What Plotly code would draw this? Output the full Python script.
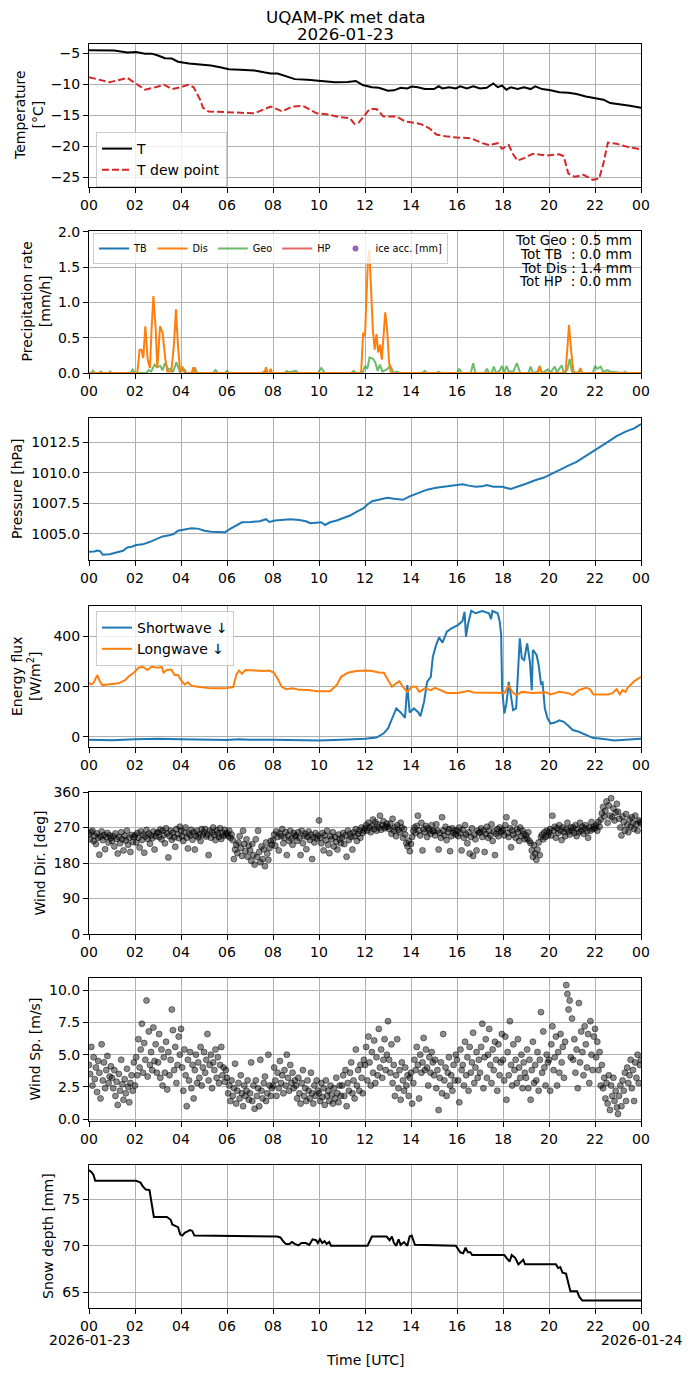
import numpy as np
import pandas as pd
import plotly.graph_objects as go
from plotly.subplots import make_subplots

DAY = pd.Timestamp("2026-01-23")

# ---- temperature [°C] (hours since 00 UTC) ----
temp_hours = [0, 1.1, 1.67, 2.05, 2.43, 2.72, 3.0, 3.3, 3.6, 3.87,
              4.35, 4.93, 5.3, 5.7, 6.08, 6.56, 7.2, 7.6, 7.9, 8.2,
              8.57, 8.95, 9.5, 10.1, 10.7, 11.25, 11.6, 11.9, 12.3, 12.6,
              13.0, 13.26, 13.55, 13.84, 14.03, 14.3, 14.6, 15.0, 15.2, 15.37,
              15.66, 15.95, 16.14, 16.43, 16.71, 17.0, 17.29, 17.58, 17.77, 17.96,
              18.15, 18.34, 18.63, 18.92, 19.2, 19.4, 19.7, 20.07, 20.45, 20.84,
              21.2, 21.6, 22.0, 22.37, 22.66, 23.04, 23.52, 24.0]
temp_vals = [-4.57, -4.6, -4.9, -4.85, -5.1, -5.1, -5.4, -5.85, -5.9, -6.4,
             -6.7, -6.9, -7.0, -7.3, -7.6, -7.7, -7.8, -8.1, -8.3, -8.3,
             -8.75, -9.2, -9.3, -9.45, -9.7, -9.65, -9.5, -10.15, -10.5, -10.6,
             -11.05, -11.0, -10.6, -10.7, -10.4, -10.5, -10.8, -10.8, -10.35, -10.7,
             -10.5, -10.7, -10.35, -10.7, -10.35, -10.7, -10.6, -9.9, -10.5, -10.25,
             -10.9, -10.5, -10.8, -10.5, -10.8, -10.35, -10.8, -11.0, -11.3, -11.4,
             -11.6, -12.0, -12.3, -12.5, -13.05, -13.3, -13.5, -13.8]

dew_hours = [0, 0.9, 1.67, 2.0, 2.43, 2.8, 3.26, 3.6, 4.0, 4.3,
             4.55, 4.83, 4.96, 5.2, 6.0, 7.2, 7.9, 8.4, 8.85, 9.3,
             9.9, 10.4, 10.9, 11.35, 11.54, 11.73, 12.2, 12.5, 12.8, 13.36,
             13.74, 14.4, 14.8, 15.1, 15.5, 16.0, 16.6, 17.1, 17.4, 17.77,
             17.96, 18.25, 18.44, 18.63, 18.92, 19.3, 19.88, 20.45, 20.64, 20.84,
             21.12, 21.5, 21.9, 22.18, 22.37, 22.56, 22.94, 23.42, 24.0]
dew_vals = [-8.9, -9.7, -9.0, -9.8, -10.9, -10.6, -10.1, -10.8, -10.5, -10.1,
            -10.5, -12.5, -13.8, -14.4, -14.5, -14.7, -13.6, -14.4, -13.6, -13.5,
            -14.7, -14.9, -15.3, -15.5, -16.4, -16.2, -14.0, -14.0, -15.2, -15.2,
            -16.0, -16.4, -17.1, -18.1, -18.4, -18.6, -18.7, -19.5, -19.8, -19.5,
            -20.4, -19.8, -21.3, -22.3, -21.9, -21.2, -21.5, -21.3, -21.6, -24.4,
            -24.9, -24.6, -25.4, -25.2, -22.7, -19.4, -19.6, -20.1, -20.5]

# ---- precipitation rate [mm/h] ----
dis_hours = [0, 2.1, 2.2, 2.28, 2.36, 2.45, 2.55, 2.65, 2.72, 2.8,
             2.9, 2.97, 3.09, 3.2, 3.32, 3.41, 3.58, 3.7, 3.78, 3.87,
             3.97, 4.06, 4.16, 4.46, 4.54, 4.62, 7.62, 7.7, 7.76, 7.84,
             7.9, 7.96, 11.83, 11.92, 12.0, 12.06, 12.13, 12.19, 12.27, 12.34,
             12.42, 12.5, 12.57, 12.65, 12.73, 12.8, 12.88, 12.96, 13.05, 13.13,
             19.52, 19.6, 19.68, 20.72, 20.8, 20.87, 20.97, 21.07, 21.3, 21.37,
             21.44, 24.0]
dis_vals = [0, 0, 0.33, 0.33, 0.21, 0.66, 0.19, 0.07, 0.62, 1.09,
            0.62, 0.07, 0.66, 0.57, 0.19, 0.02, 0.02, 0.43, 0.9, 0.38,
            0, 0.09, 0, 0, 0.08, 0, 0, 0.08, 0, 0,
            0.06, 0, 0, 0.57, 0.52, 1.0, 1.62, 1.74, 1.24, 0.62,
            0.33, 0.55, 0.29, 0.40, 0.19, 0.57, 0.86, 0.62, 0.14, 0,
            0, 0.09, 0, 0, 0.38, 0.68, 0.29, 0, 0, 0.07,
            0, 0]

geo_hours = [0, 0.1, 0.17, 0.25, 0.45, 0.52, 0.6, 0.85, 0.92, 1.0,
             1.8, 1.9, 2.0, 2.5, 2.6, 2.7, 2.85, 2.95, 3.1, 3.2,
             3.3, 3.45, 3.55, 3.65, 3.8, 3.95, 4.15, 4.25, 4.5, 4.6,
             4.7, 5.4, 5.5, 5.6, 5.9, 6.0, 6.1, 7.5, 7.6, 7.7,
             8.5, 8.6, 8.7, 9.0, 9.1, 9.95, 10.1, 10.25, 11.4, 11.5,
             11.6, 11.9, 12.0, 12.1, 12.2, 12.35, 12.45, 12.55, 12.65, 12.75,
             12.95, 13.1, 13.25, 13.4, 13.5, 14.5, 14.6, 14.7, 15.1, 15.2,
             15.3, 16.0, 16.1, 16.2, 16.6, 16.7, 16.8, 17.2, 17.3, 17.4,
             17.5, 17.6, 17.7, 17.85, 17.95, 18.05, 18.15, 18.25, 18.45, 18.6,
             18.75, 19.1, 19.2, 19.3, 19.5, 19.6, 19.7, 19.95, 20.05, 20.25,
             20.35, 20.55, 20.65, 20.8, 20.9, 21.0, 21.25, 21.35, 21.45, 21.9,
             22.0, 22.1, 22.25, 22.35, 22.55, 22.65, 23.2, 23.3, 23.4, 24.0]
geo_vals = [0, 0, 0.03, 0, 0, 0.02, 0, 0, 0.02, 0,
            0, 0.05, 0, 0, 0.04, 0.02, 0.12, 0.08, 0.1, 0.04,
            0.14, 0.05, 0.06, 0.01, 0.15, 0.02, 0.05, 0, 0, 0.08,
            0, 0, 0.04, 0, 0, 0.03, 0, 0, 0.02, 0,
            0, 0.03, 0.01, 0.03, 0, 0, 0.07, 0, 0, 0.03,
            0, 0, 0.1, 0.06, 0.22, 0.2, 0.15, 0.03, 0.12, 0.02,
            0.05, 0.1, 0, 0.02, 0, 0, 0.03, 0, 0, 0.02,
            0, 0, 0.06, 0, 0, 0.14, 0, 0, 0.06, 0,
            0, 0.09, 0, 0.03, 0.1, 0, 0.1, 0.02, 0.02, 0.14,
            0, 0, 0.09, 0, 0.02, 0.1, 0, 0.05, 0, 0.09,
            0.01, 0.11, 0, 0.05, 0.2, 0.02, 0, 0.05, 0, 0,
            0.1, 0.06, 0.09, 0.02, 0.04, 0.02, 0, 0.02, 0, 0]

precip_totals = ["Tot Geo : 0.5 mm", "Tot TB\u00a0 : 0.0 mm",
                 "Tot Dis : 1.4 mm", "Tot HP\u00a0 : 0.0 mm"]

# ---- pressure [hPa] ----
pres_hours = [0, 0.23, 0.36, 0.48, 0.6, 0.9, 1.19, 1.48, 1.67, 1.86,
              2.05, 2.34, 2.63, 2.91, 3.2, 3.49, 3.68, 3.87, 4.16, 4.45,
              4.73, 5.02, 5.31, 5.6, 5.92, 6.08, 6.36, 6.65, 7.03, 7.42,
              7.7, 7.84, 8.09, 8.38, 8.76, 9.14, 9.43, 9.62, 9.91, 10.1,
              10.26, 10.48, 10.77, 11.06, 11.35, 11.63, 11.92, 12.11, 12.31, 12.59,
              12.98, 13.26, 13.65, 13.94, 14.32, 14.7, 15.09, 15.47, 15.85, 16.24,
              16.52, 16.81, 17.1, 17.29, 17.58, 17.96, 18.34, 18.63, 19.0, 19.4,
              19.78, 20.07, 20.45, 20.84, 21.2, 21.6, 22.0, 22.37, 22.56, 22.94,
              23.33, 23.7, 24.0]
pres_vals = [1003.54, 1003.57, 1003.65, 1003.6, 1003.3, 1003.35, 1003.49, 1003.63, 1003.9, 1003.96,
             1004.1, 1004.15, 1004.34, 1004.59, 1004.8, 1004.89, 1005.0, 1005.27, 1005.38, 1005.47,
             1005.44, 1005.27, 1005.19, 1005.19, 1005.14, 1005.36, 1005.69, 1005.96, 1005.99, 1006.04,
             1006.21, 1005.99, 1006.1, 1006.15, 1006.21, 1006.15, 1006.04, 1005.88, 1005.91, 1005.96,
             1005.74, 1005.96, 1006.1, 1006.29, 1006.51, 1006.81, 1007.09, 1007.42, 1007.69, 1007.8,
             1007.97, 1007.88, 1007.8, 1008.08, 1008.35, 1008.63, 1008.79, 1008.9, 1009.01, 1009.07,
             1008.96, 1008.87, 1008.9, 1009.01, 1008.87, 1008.87, 1008.68, 1008.9, 1009.12, 1009.4,
             1009.62, 1009.89, 1010.27, 1010.6, 1010.9, 1011.37, 1011.87, 1012.28, 1012.55, 1013.02,
             1013.38, 1013.65, 1014.01]

# ---- energy flux [W/m2] ----
sw_hours = [0, 1, 2, 3, 4, 5, 6, 6.5, 7, 8,
            9, 10, 11, 12, 12.5, 12.8, 13.0, 13.17, 13.36, 13.55,
            13.74, 13.84, 13.94, 14.13, 14.32, 14.41, 14.57, 14.7, 14.86, 14.95,
            15.09, 15.22, 15.37, 15.56, 15.76, 16.04, 16.24, 16.33, 16.39, 16.47,
            16.62, 16.81, 17.1, 17.39, 17.48, 17.54, 17.77, 17.86, 17.92, 17.96,
            18.06, 18.15, 18.25, 18.34, 18.44, 18.57, 18.73, 18.82, 18.92, 19.05,
            19.17, 19.25, 19.3, 19.46, 19.55, 19.65, 19.72, 19.82, 19.94, 20.07,
            20.26, 20.45, 20.64, 20.84, 21.03, 21.3, 21.6, 21.9, 22.37, 22.85,
            23.33, 24.0]
sw_vals = [-12, -14, -10, -8, -10, -12, -13, -10, -12, -12,
           -14, -15, -12, -8, -3, 13, 33, 73, 113, 97,
           76, 206, 97, 113, 97, 82, 140, 219, 239, 319,
           365, 396, 375, 419, 432, 445, 461, 498, 399, 445,
           502, 492, 501, 492, 469, 501, 492, 458, 405, 193,
           93, 133, 219, 166, 106, 113, 392, 312, 306, 372,
           299, 186, 346, 326, 286, 213, 217, 113, 73, 53,
           57, 66, 60, 44, 27, 20, 7, -4, -9, -15,
           -12, -8]

lw_hours = [0, 0.08, 0.19, 0.36, 0.48, 0.58, 0.9, 1.28, 1.57, 1.76,
            1.96, 2.15, 2.34, 2.53, 2.72, 3.0, 3.16, 3.24, 3.39, 3.58,
            3.72, 3.87, 4.0, 4.16, 4.31, 4.45, 4.73, 5.31, 5.88, 6.27,
            6.4, 6.52, 6.65, 6.8, 7.23, 7.61, 7.84, 8.03, 8.19, 8.38,
            8.57, 8.86, 9.14, 9.53, 9.91, 10.48, 10.77, 10.96, 11.25, 11.63,
            12.02, 12.31, 12.59, 12.82, 13.0, 13.17, 13.36, 13.49, 13.65, 13.84,
            14.03, 14.22, 14.36, 14.6, 14.86, 15.05, 15.28, 15.56, 16.04, 16.33,
            16.52, 16.71, 17.19, 17.77, 18.06, 18.25, 18.4, 18.57, 18.82, 19.3,
            19.88, 20.07, 20.45, 20.84, 21.03, 21.3, 21.6, 21.78, 21.93, 22.27,
            22.56, 22.75, 22.94, 23.08, 23.2, 23.33, 23.42, 23.71, 24.0]
lw_vals = [217, 209, 213, 246, 219, 206, 209, 213, 226, 243,
           256, 275, 279, 266, 279, 275, 279, 256, 266, 268,
           246, 246, 226, 209, 217, 203, 199, 193, 193, 198,
           246, 264, 251, 266, 264, 262, 264, 256, 233, 199,
           190, 193, 187, 186, 182, 182, 206, 239, 255, 262,
           264, 262, 256, 255, 226, 199, 213, 222, 199, 179,
           199, 199, 179, 193, 186, 195, 186, 175, 175, 179,
           183, 177, 177, 177, 175, 206, 179, 166, 179, 175,
           177, 169, 179, 174, 166, 186, 195, 190, 169, 169,
           169, 173, 190, 169, 186, 179, 195, 222, 239]

# ---- wind, one sample every 3 minutes (20 per hour, last one at 24:00) ----
wind_dir = [
    252, 240, 258, 262, 236, 249, 228, 255, 244, 201, 247, 260, 238, 251, 215, 246, 256, 232, 250, 243,
    236, 248, 222, 255, 241, 204, 246, 230, 258, 240, 212, 249, 237, 262, 226, 244, 208, 251, 233, 246,
    250, 232, 256, 244, 219, 260, 238, 252, 206, 247, 264, 241, 255, 229, 250, 243, 260, 214, 248, 256,
    258, 246, 265, 240, 262, 251, 230, 268, 255, 194, 248, 262, 239, 257, 245, 221, 266, 253, 243, 272,
    262, 248, 236, 258, 270, 244, 217, 255, 250, 264, 239, 258, 214, 249, 262, 245, 253, 236, 266, 251,
    258, 266, 247, 252, 200, 262, 244, 258, 270, 251, 238, 263, 255, 246, 268, 241, 257, 249, 264, 253,
    256, 248, 262, 244, 252, 238, 190, 214, 226, 205, 232, 248, 218, 198, 262, 228, 210, 240, 196, 224,
    212, 186, 228, 200, 176, 240, 195, 262, 208, 182, 222, 190, 215, 172, 232, 204, 188, 218, 236, 226,
    238, 252, 224, 260, 246, 212, 255, 248, 266, 230, 244, 258, 200, 250, 236, 262, 242, 226, 256, 248,
    250, 236, 258, 244, 200, 262, 230, 248, 254, 215, 246, 260, 238, 252, 190, 245, 232, 256, 242, 249,
    288, 244, 230, 256, 212, 250, 238, 262, 226, 205, 248, 240, 258, 222, 246, 233, 214, 252, 240, 230,
    244, 256, 228, 250, 196, 262, 238, 254, 246, 214, 258, 248, 266, 236, 254, 262, 244, 270, 256, 262,
    268, 276, 262, 282, 270, 258, 274, 290, 266, 284, 262, 278, 270, 300, 264, 276, 286, 268, 272, 280,
    272, 266, 280, 254, 292, 262, 270, 248, 276, 264, 258, 282, 270, 244, 266, 252, 230, 222, 236, 210,
    228, 246, 262, 270, 256, 274, 300, 262, 250, 282, 212, 266, 258, 274, 246, 268, 262, 254, 276, 262,
    260, 250, 278, 262, 214, 256, 244, 296, 262, 250, 272, 238, 258, 266, 210, 248, 268, 256, 262, 252,
    262, 248, 270, 256, 212, 264, 244, 276, 252, 230, 258, 204, 246, 268, 198, 252, 240, 212, 262, 256,
    258, 268, 246, 262, 208, 254, 272, 244, 262, 250, 278, 236, 260, 200, 254, 266, 248, 270, 258, 262,
    264, 250, 276, 296, 256, 246, 268, 220, 262, 252, 282, 244, 266, 258, 236, 270, 248, 262, 254, 240,
    250, 242, 258, 236, 230, 212, 196, 225, 204, 188, 214, 232, 200, 246, 252, 240, 258, 246, 262, 250,
    258, 266, 250, 300, 262, 272, 244, 268, 256, 276, 262, 238, 270, 258, 248, 266, 282, 260, 252, 270,
    262, 270, 256, 276, 248, 266, 258, 282, 262, 272, 254, 268, 276, 260, 244, 270, 262, 284, 266, 272,
    268, 276, 262, 284, 272, 290, 306, 322, 298, 312, 336, 282, 326, 300, 344, 296, 318, 288, 308, 330,
    310, 292, 270, 250, 298, 284, 262, 304, 276, 258, 290, 272, 296, 282, 266, 300, 278, 262, 288, 284,
    280]

wind_sp = [
    4.2, 3.5, 5.6, 2.6, 4.8, 3.1, 4.0, 2.1, 4.5, 3.6, 1.6, 5.8, 3.0, 4.4, 2.4, 3.8, 4.9, 2.8, 3.3, 4.1,
    3.2, 2.4, 3.8, 1.8, 2.9, 1.1, 3.5, 2.2, 4.6, 2.7, 1.5, 3.1, 2.0, 3.9, 2.5, 1.3, 2.8, 3.4, 2.2, 4.4,
    2.6, 4.8, 3.4, 6.2, 4.0, 5.4, 7.4, 3.6, 5.9, 4.6, 9.2, 3.3, 6.8, 4.2, 5.2, 3.8, 7.1, 4.5, 5.8, 3.6,
    4.4, 6.6, 3.2, 5.4, 2.6, 4.8, 3.6, 6.0, 2.3, 5.2, 3.4, 4.6, 8.5, 6.9, 3.8, 5.6, 2.8, 4.2, 6.4, 5.0,
    7.0, 4.0, 2.2, 5.4, 3.4, 1.0, 4.6, 3.0, 5.2, 2.4, 4.2, 1.6, 3.8, 5.0, 2.8, 4.4, 3.2, 5.6, 2.6, 4.0,
    5.2, 3.6, 4.6, 6.6, 3.0, 4.2, 5.0, 2.4, 4.4, 3.8, 5.4, 3.2, 4.8, 2.8, 4.2, 5.6, 3.4, 4.0, 2.9, 3.8,
    3.2, 2.0, 2.6, 1.4, 3.0, 1.8, 2.4, 4.3, 1.2, 2.2, 2.8, 1.6, 3.4, 2.0, 1.0, 2.6, 1.8, 2.2, 3.0, 1.5,
    2.0, 4.4, 1.4, 2.6, 0.8, 3.0, 1.8, 2.4, 1.0, 4.6, 2.2, 1.6, 2.8, 3.3, 1.4, 2.0, 5.0, 2.6, 1.8, 2.4,
    2.6, 4.0, 3.0, 1.8, 3.6, 2.4, 4.5, 2.8, 3.4, 2.0, 3.8, 2.6, 5.0, 3.2, 2.2, 4.2, 2.8, 3.6, 2.4, 3.0,
    2.6, 1.6, 3.2, 2.0, 1.2, 2.8, 3.8, 1.8, 2.4, 1.4, 3.0, 2.2, 1.6, 3.6, 2.0, 1.2, 2.6, 1.8, 3.0, 2.2,
    2.0, 1.4, 2.8, 1.7, 2.4, 1.1, 3.0, 1.8, 2.2, 1.4, 2.6, 1.9, 1.2, 2.4, 1.6, 3.2, 2.0, 1.3, 2.6, 1.8,
    2.6, 3.4, 1.8, 3.8, 1.0, 2.8, 2.2, 3.6, 4.4, 2.0, 3.0, 1.6, 5.4, 2.6, 3.8, 2.2, 4.2, 3.2, 2.0, 4.6,
    4.2, 5.6, 3.0, 6.4, 4.4, 2.6, 5.2, 3.6, 6.1, 2.8, 4.8, 3.4, 7.0, 4.0, 5.4, 3.2, 4.6, 6.2, 3.8, 5.0,
    7.6, 4.6, 3.6, 5.8, 2.8, 4.2, 1.8, 3.4, 6.2, 2.4, 3.8, 1.5, 4.4, 3.0, 2.2, 4.0, 2.6, 3.4, 1.8, 3.2,
    3.6, 1.2, 2.8, 4.6, 3.8, 5.6, 4.2, 1.6, 5.0, 3.6, 4.4, 6.3, 3.8, 5.4, 4.0, 2.6, 4.8, 3.6, 5.2, 4.4,
    3.4, 4.6, 2.4, 3.8, 0.7, 3.2, 4.4, 2.0, 6.6, 3.0, 4.0, 1.8, 3.6, 4.8, 2.6, 3.4, 2.2, 4.2, 3.0, 5.0,
    4.6, 3.0, 1.3, 5.4, 3.8, 4.2, 2.6, 6.0, 3.4, 4.8, 2.2, 5.6, 3.6, 4.4, 6.7, 2.8, 4.0, 5.2, 3.2, 4.6,
    3.6, 5.6, 7.4, 2.4, 4.8, 6.2, 3.2, 5.0, 7.0, 4.2, 2.8, 5.4, 3.8, 6.0, 4.6, 2.2, 5.8, 3.4, 4.4, 6.6,
    4.6, 3.0, 6.4, 1.5, 5.2, 3.4, 7.6, 4.2, 2.6, 5.8, 3.8, 4.6, 2.8, 6.2, 4.0, 3.2, 5.0, 2.4, 4.4, 3.6,
    3.2, 5.4, 2.4, 4.6, 1.5, 3.8, 6.0, 2.8, 4.2, 3.0, 5.2, 2.2, 4.6, 8.3, 3.6, 6.8, 4.0, 2.6, 5.0, 4.4,
    4.6, 2.2, 5.8, 7.2, 3.8, 4.8, 6.4, 2.6, 5.2, 3.6, 6.6, 4.4, 5.6, 3.2, 6.0, 10.4, 9.7, 8.5, 9.2, 4.8,
    7.8, 4.6, 6.2, 3.6, 5.4, 2.4, 9.0, 4.4, 6.8, 5.2, 3.4, 7.2, 5.8, 4.0, 6.6, 2.8, 7.6, 5.0, 3.8, 6.4,
    7.0, 4.8, 6.0, 3.8, 5.2, 2.6, 4.2, 2.4, 3.2, 1.6, 2.8, 1.2, 3.4, 0.7, 2.6, 1.8, 3.2, 1.4, 2.2, 0.9,
    0.4, 1.8, 2.6, 1.0, 3.0, 2.2, 3.6, 1.4, 4.0, 2.8, 3.4, 4.6, 2.4, 3.8, 1.4, 4.4, 3.2, 5.0, 2.8, 4.2,
    4.6]

# ---- snow depth [mm] ----
snow_hours = [0, 0.13, 0.2, 0.27, 2.05, 2.24, 2.34, 2.47, 2.63, 2.72,
              2.82, 3.39, 3.55, 3.62, 3.78, 3.87, 3.97, 4.06, 4.16, 4.26,
              4.39, 4.49, 4.58, 8.18, 8.32, 8.47, 8.57, 8.72, 8.82, 8.95,
              9.1, 9.24, 9.43, 9.58, 9.72, 9.87, 9.95, 10.04, 10.14, 10.24,
              10.33, 10.45, 10.52, 12.11, 12.3, 12.94, 13.07, 13.17, 13.26, 13.36,
              13.46, 13.55, 13.7, 13.84, 13.94, 14.03, 14.17, 15.95, 16.04, 16.14,
              16.27, 16.37, 16.47, 16.58, 16.66, 18.06, 18.15, 18.29, 18.38, 18.53,
              18.67, 18.79, 18.88, 18.96, 20.3, 20.4, 20.49, 20.59, 20.74, 20.84,
              20.93, 21.22, 21.32, 21.45, 24.0]
snow_vals = [78.15, 77.87, 77.6, 77.0, 77.0, 76.8, 76.4, 76.05, 76.0, 74.4,
             73.1, 73.1, 72.8, 72.3, 72.1, 72.0, 71.2, 71.1, 71.4, 71.5,
             71.7, 71.6, 71.1, 71.0, 70.9, 70.4, 70.2, 70.2, 70.4, 70.2,
             70.05, 70.3, 70.3, 70.1, 70.7, 70.6, 70.3, 70.7, 70.3, 70.5,
             70.2, 70.4, 70.0, 70.0, 71.0, 71.0, 70.6, 71.0, 70.3, 70.0,
             70.7, 70.1, 70.4, 70.0, 71.0, 71.1, 70.1, 70.0, 69.6, 69.3,
             69.2, 69.8, 69.3, 69.3, 69.0, 69.0, 68.7, 68.3, 69.0, 68.7,
             68.0, 68.3, 68.5, 68.0, 68.0, 67.6, 67.7, 67.1, 67.0, 66.0,
             65.1, 65.1, 64.5, 64.1, 64.1]

hour_ticks = list(range(0, 25, 2))
hour_labels = ["%02d" % (h % 24) for h in hour_ticks]


def to_time(hours):
    return DAY + pd.to_timedelta(np.asarray(hours, dtype=float), unit="h")


def yref(i):
    return "y" if i == 1 else f"y{i}"


wind_time = DAY + pd.to_timedelta(np.arange(len(wind_dir)) * 3, unit="min")

# pixel layout of the original figure (page coordinates)
PAGE_W, PAGE_H, BODY = 690, 1377, 8   # the html body adds an 8 px margin
LEFT, RIGHT, TOP, BOTTOM = 89, 641, 44, 1308
PANELS = [(44, 187), (231, 373), (418, 560), (606, 747),
          (792, 934), (978, 1121), (1165, 1308)]
YRANGES = [[-26.55, -3.55], [0, 2.01], [1002.87, 1014.5], [-40.5, 521],
           [0, 360], [-0.15, 10.95], [63.3, 78.7]]
PLOT_H = BOTTOM - TOP

FONT = "DejaVu Sans"
GRID = "#b0b0b0"

fig = make_subplots(rows=7, cols=1)

# temperature
fig.add_trace(go.Scatter(x=to_time(temp_hours), y=temp_vals, mode="lines", name="T",
                         line=dict(color="black", width=2), legend="legend"), row=1, col=1)
fig.add_trace(go.Scatter(x=to_time(dew_hours), y=dew_vals, mode="lines", name="T dew point",
                         line=dict(color="#d62728", width=2, dash="7px,3px"), legend="legend"),
              row=1, col=1)

# precipitation (legend order kept with legendrank)
fig.add_trace(go.Scatter(x=[None], y=[None], mode="lines", name="TB", legendrank=1,
                         line=dict(color="#1f77b4", width=2), legend="legend2"), row=2, col=1)
fig.add_trace(go.Scatter(x=[None], y=[None], mode="lines", name="HP", legendrank=4,
                         line=dict(color="rgba(214,39,40,0.7)", width=2), legend="legend2"), row=2, col=1)
fig.add_trace(go.Scatter(x=to_time(geo_hours), y=geo_vals, mode="lines", name="Geo", legendrank=3,
                         line=dict(color="rgba(44,160,44,0.7)", width=2), legend="legend2"), row=2, col=1)
fig.add_trace(go.Scatter(x=to_time(dis_hours), y=dis_vals, mode="lines", name="Dis", legendrank=2,
                         line=dict(color="#ff7f0e", width=2), legend="legend2"), row=2, col=1)
fig.add_trace(go.Scatter(x=[None], y=[None], mode="markers", name="ice acc. [mm]", legendrank=5,
                         marker=dict(color="#9467bd", size=6), legend="legend2"), row=2, col=1)

# pressure
fig.add_trace(go.Scatter(x=to_time(pres_hours), y=pres_vals, mode="lines", showlegend=False,
                         line=dict(color="#1f77b4", width=2)), row=3, col=1)

# energy flux
fig.add_trace(go.Scatter(x=to_time(sw_hours), y=sw_vals, mode="lines", name="Shortwave ↓",
                         line=dict(color="#1f77b4", width=2), legend="legend3"), row=4, col=1)
fig.add_trace(go.Scatter(x=to_time(lw_hours), y=lw_vals, mode="lines", name="Longwave ↓",
                         line=dict(color="#ff7f0e", width=2), legend="legend3"), row=4, col=1)

# wind
dots = dict(color="rgba(0,0,0,0.45)", size=6, line=dict(width=1, color="rgba(0,0,0,0.45)"))
fig.add_trace(go.Scatter(x=wind_time, y=wind_dir, mode="markers", showlegend=False, marker=dots),
              row=5, col=1)
fig.add_trace(go.Scatter(x=wind_time, y=wind_sp, mode="markers", showlegend=False, marker=dots),
              row=6, col=1)

# snow depth
fig.add_trace(go.Scatter(x=to_time(snow_hours), y=snow_vals, mode="lines", showlegend=False,
                         line=dict(color="black", width=2)), row=7, col=1)

axis_common = dict(showgrid=True, gridcolor=GRID, gridwidth=1.1, zeroline=False,
                   showline=True, linecolor="black", linewidth=1, mirror=True,
                   ticks="outside", ticklen=5, tickwidth=1, tickcolor="black",
                   tickfont=dict(size=14, color="black"))

ytick_setup = [
    dict(tickvals=[-25, -20, -15, -10, -5]),
    dict(tickvals=[0, 0.5, 1.0, 1.5, 2.0], tickformat=".1f"),
    dict(tickvals=[1005, 1007.5, 1010, 1012.5], tickformat=".1f"),
    dict(tickvals=[0, 200, 400]),
    dict(tickvals=[0, 90, 180, 270, 360]),
    dict(tickvals=[0, 2.5, 5, 7.5, 10], tickformat=".1f"),
    dict(tickvals=[65, 70, 75]),
]

for i, ((top, bot), yr) in enumerate(zip(PANELS, YRANGES), start=1):
    dom = [(BOTTOM - bot) / PLOT_H, (BOTTOM - top) / PLOT_H]
    fig.update_layout({
        f"yaxis{i}": dict(domain=dom, range=yr, **ytick_setup[i - 1], **axis_common),
        f"xaxis{i}": dict(type="date", range=[DAY, DAY + pd.Timedelta(hours=24)],
                          tickvals=to_time(hour_ticks), ticktext=hour_labels, **axis_common),
    })

ylabels = ["Temperature<br>[°C]", "Precipitation rate<br>[mm/h]", "Pressure [hPa]",
           "Energy flux<br>[W/m<sup>2</sup>]", "Wind Dir. [deg]", "Wind Sp. [m/s]",
           "Snow depth [mm]"]
ylabel_px = [28.5, 35.5, 17, 25.5, 39.5, 34, 47.5]

annotations = []
for i, (lab, px) in enumerate(zip(ylabels, ylabel_px), start=1):
    annotations.append(dict(text=lab, xref="paper", x=(px - LEFT) / (RIGHT - LEFT),
                            yref=f"{yref(i)} domain", y=0.5, textangle=-90, showarrow=False,
                            xanchor="center", yanchor="middle", font=dict(size=14)))

# totals box in the precipitation panel
p_top, p_bot = PANELS[1]
for txt, py in zip(precip_totals, [240, 254, 267.5, 281]):
    annotations.append(dict(text=txt, xref="paper", x=(634 - LEFT) / (RIGHT - LEFT),
                            yref="y2 domain", y=(p_bot - py) / (p_bot - p_top),
                            xanchor="right", yanchor="middle", showarrow=False,
                            font=dict(size=13.5)))

# date offsets and x title under the last panel
s_top, s_bot = PANELS[6]
for t, txt in [(DAY, "2026-01-23"), (DAY + pd.Timedelta(hours=24), "2026-01-24")]:
    annotations.append(dict(text=txt, xref="x7", x=t, yref="y7 domain",
                            y=(s_bot - 1339.5) / (s_bot - s_top), xanchor="center",
                            yanchor="middle", showarrow=False, font=dict(size=14)))
annotations.append(dict(text="Time [UTC]", xref="paper", x=0.5, yref="y7 domain",
                        y=(s_bot - 1360) / (s_bot - s_top), xanchor="center",
                        yanchor="middle", showarrow=False, font=dict(size=14)))

# two-line title
for txt, py in [("UQAM-PK met data", 16.5), ("2026-01-23", 33.5)]:
    annotations.append(dict(text=txt, xref="paper", x=(345 - LEFT) / (RIGHT - LEFT),
                            yref="paper", y=(BOTTOM - py) / PLOT_H, xanchor="center",
                            yanchor="middle", showarrow=False, font=dict(size=16.7)))

legend_box = dict(bgcolor="rgba(255,255,255,0.8)", bordercolor="#cccccc", borderwidth=1,
                  xanchor="left", yanchor="top")

fig.update_layout(
    width=PAGE_W - BODY, height=PAGE_H - BODY,
    margin=dict(l=LEFT - BODY, r=PAGE_W - RIGHT, t=TOP - BODY, b=PAGE_H - BOTTOM,
                autoexpand=False),
    paper_bgcolor="white", plot_bgcolor="white",
    font=dict(family=FONT, size=14, color="black"),
    showlegend=True,
    legend=dict(x=(96 - LEFT) / (RIGHT - LEFT), y=(BOTTOM - 132) / PLOT_H,
                font=dict(size=14), **legend_box),
    legend2=dict(x=(93 - LEFT) / (RIGHT - LEFT), y=(BOTTOM - 233) / PLOT_H,
                 orientation="h", traceorder="normal",
                 font=dict(size=9.7), **legend_box),
    legend3=dict(x=(96 - LEFT) / (RIGHT - LEFT), y=(BOTTOM - 611) / PLOT_H,
                 font=dict(size=14), **legend_box),
    annotations=annotations,
)

fig.write_html("out.html")
